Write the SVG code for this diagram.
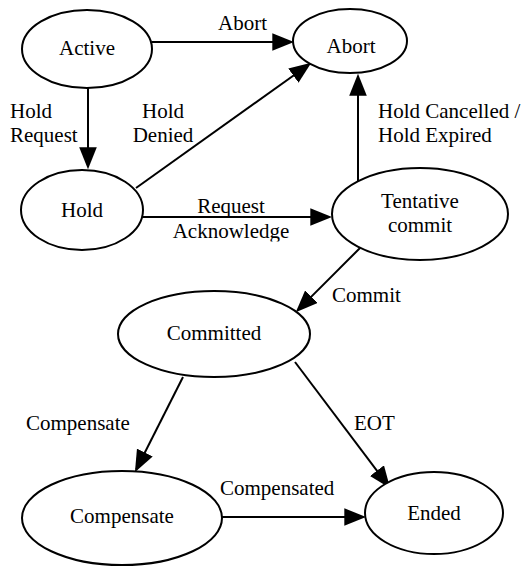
<svg xmlns="http://www.w3.org/2000/svg" width="523" height="567" viewBox="0 0 523 567">
<style>
.node ellipse{fill:#fff;stroke:#000;stroke-width:2}
text{font-family:"Liberation Serif","Times New Roman",serif;font-size:21px;fill:#000}
.c{text-anchor:middle}
.edge{stroke:#000;stroke-width:2;fill:none;marker-end:url(#arr)}
</style>
<defs>
<marker id="arr" markerUnits="userSpaceOnUse" markerWidth="22" markerHeight="18" viewBox="0 0 20 16" refX="17" refY="8" orient="auto">
<path d="M0,0 L20,8 L0,16 z" fill="#000"/>
</marker>
<clipPath id="ackclip"><rect x="150" y="220" width="160" height="21.5"/></clipPath>
</defs>
<rect width="523" height="567" fill="#fff"/>
<g id="connectors">
<line class="edge" x1="152" y1="42" x2="291" y2="42"/>
<line class="edge" x1="88" y1="88" x2="88" y2="166"/>
<line class="edge" x1="136" y1="188" x2="308.6" y2="64.7"/>
<line class="edge" x1="143" y1="217" x2="329" y2="217"/>
<line class="edge" x1="358" y1="182" x2="358" y2="77"/>
<line class="edge" x1="360" y1="248" x2="298.1" y2="309.9"/>
<line class="edge" x1="183" y1="377" x2="136.4" y2="469.3"/>
<line class="edge" x1="295" y1="362" x2="388.2" y2="485.6"/>
<line class="edge" x1="222" y1="517" x2="363" y2="517"/>
<text x="218" y="30">Abort</text>
<text x="10" y="118">Hold</text>
<text x="10" y="142">Request</text>
<text class="c" x="163" y="118">Hold</text>
<text class="c" x="163" y="142">Denied</text>
<text class="c" x="231" y="213">Request</text>
<text class="c" x="231" y="238" clip-path="url(#ackclip)">Acknowledge</text>
<text x="378" y="118">Hold Cancelled /</text>
<text x="378" y="142">Hold Expired</text>
<text x="332" y="302">Commit</text>
<text x="26" y="430">Compensate</text>
<text x="354" y="430">EOT</text>
<text x="220" y="495">Compensated</text>
</g>
<g id="active" class="node"><ellipse cx="87" cy="49" rx="65" ry="39"/><text class="c" x="87" y="55">Active</text></g>
<g id="abort" class="node"><ellipse cx="350" cy="41" rx="57" ry="32"/><text class="c" x="351" y="53">Abort</text></g>
<g id="hold" class="node"><ellipse cx="82" cy="210" rx="61" ry="40"/><text class="c" x="82" y="217">Hold</text></g>
<g id="tentative" class="node"><ellipse cx="420" cy="214" rx="88" ry="46"/><text class="c" x="420" y="208">Tentative</text><text class="c" x="420" y="232">commit</text></g>
<g id="committed" class="node"><ellipse cx="214" cy="334" rx="96" ry="43"/><text class="c" x="214" y="340">Committed</text></g>
<g id="compensate" class="node"><ellipse cx="122" cy="518" rx="100" ry="47"/><text class="c" x="122" y="523">Compensate</text></g>
<g id="ended" class="node"><ellipse cx="434" cy="513" rx="69" ry="41"/><text class="c" x="434" y="520">Ended</text></g>
</svg>
